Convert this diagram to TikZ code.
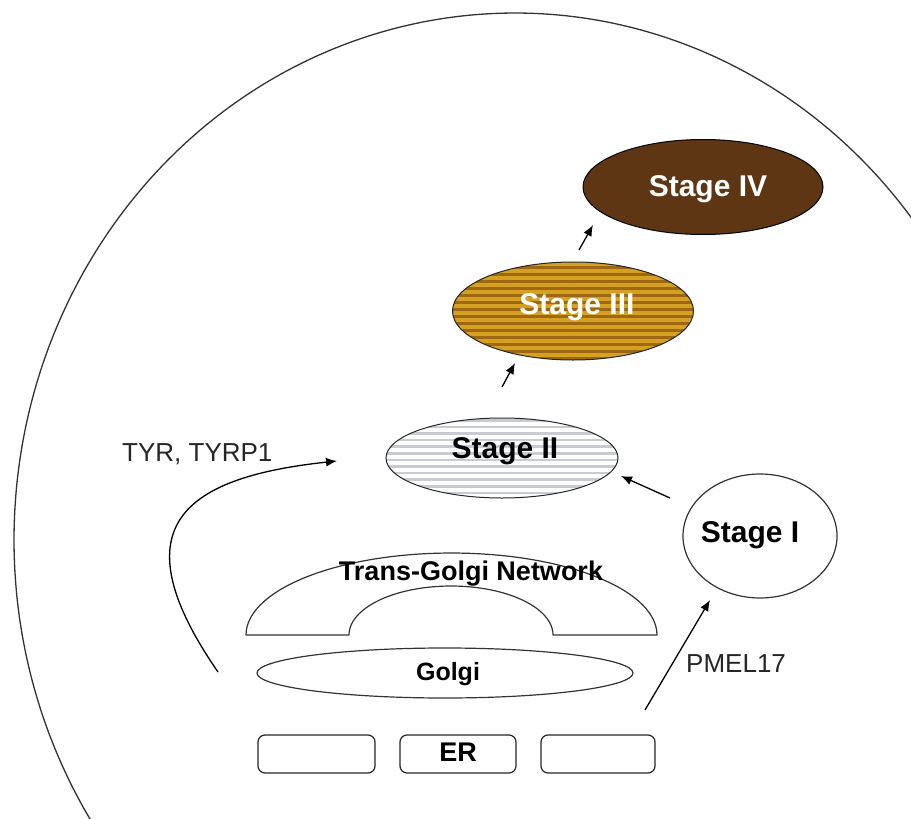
\documentclass[tikz,border=0pt]{standalone}
\usepackage{fontspec}
\setmainfont{Liberation Sans}
\usetikzlibrary{arrows.meta,shapes.geometric}
\definecolor{stfour}{RGB}{94,54,20}
\definecolor{goldA}{RGB}{214,160,32}
\definecolor{goldB}{RGB}{158,104,18}
\definecolor{greyS}{RGB}{200,203,210}
\tikzset{
  outline/.style={draw=black!80, line width=1.2pt},
  arr/.style={draw=black, line width=1.3pt, -{Latex[length=11pt,width=9pt]}},
  stagelbl/.style={font=\fontsize{30}{32}\selectfont\bfseries, anchor=base, inner sep=0pt},
  lbl/.style={font=\fontsize{26}{28}\selectfont, anchor=base west, inner sep=0pt, text=black!85},
  orglbl/.style={font=\fontsize{27}{29}\selectfont\bfseries, anchor=base, inner sep=0pt},
  stageell/.style={ellipse, inner sep=0pt},
  erbox/.style={draw=black!85, line width=1.2pt, rounded corners=7pt, minimum height=38pt, inner sep=0pt},
}
\begin{document}
\begin{tikzpicture}[x=1pt,y=-1pt]
\useasboundingbox (0,0) rectangle (911,819);
\fill[white] (0,0) rectangle (911,819);

% cell outline
\begin{scope}
\clip (0,0) rectangle (911,819);
\draw[outline, line width=1.3pt] plot[domain=0:360, samples=240, smooth]
  ({515+501*cos(\x)},{540-527*sin(\x)});
\end{scope}

% Stage IV
\node[stageell, draw=black, line width=1pt, fill=stfour,
      minimum width=240pt, minimum height=95pt] (s4) at (703,187) {};
\node[stagelbl, text=white] (s4t) at (708,196) {Stage IV};

% Stage III
\node[stageell, draw=black!85, line width=1pt, fill=goldB,
      minimum width=241pt, minimum height=98pt,
      path picture={\foreach \k in {0,...,16}{\fill[goldA]
        ([yshift=-\k*7pt]path picture bounding box.north west)
        rectangle ++(250pt,-4pt);}}] (s3) at (573,311) {};
\node[stagelbl, text=white] (s3t) at (577,314) {Stage III};

% Stage II
\node[stageell, draw=black!85, line width=1pt, fill=white,
      minimum width=232pt, minimum height=80pt,
      path picture={\foreach \k in {0,...,14}{\fill[greyS]
        ([yshift=-\k*6.6pt-1pt]path picture bounding box.north west)
        rectangle ++(240pt,-2.6pt);}}] (s2) at (502,458) {};
\node[stagelbl, text=black] (s2t) at (505,458) {Stage II};

% Stage I
\node[stageell, outline, minimum width=154pt, minimum height=124pt] (s1) at (760,536) {};
\node[stagelbl, text=black] (s1t) at (750,542) {Stage I};

% Trans-Golgi network
\draw[outline, line join=round]
  plot[domain=180:0, samples=60] ({451.5+205.5*cos(\x)},{635-82*sin(\x)})
  -- (553,635)
  -- plot[domain=0:180, samples=60] ({451+102*cos(\x)},{635-49*sin(\x)})
  -- cycle;
\node[orglbl] (tgn) at (471,580) {Trans-Golgi Network};

% Golgi
\node[stageell, outline, minimum width=376pt, minimum height=50pt] (golgi) at (445,673) {};
\node[orglbl, font=\fontsize{25}{27}\selectfont\bfseries] (golgit) at (448,680) {Golgi};

% ER
\node[erbox, minimum width=117pt] (er1) at (316.5,754) {};
\node[erbox, minimum width=116pt] (er2) at (458,754) {};
\node[erbox, minimum width=114pt] (er3) at (598,754) {};
\node[orglbl] (ert) at (458,761) {ER};

% labels
\node[lbl] (tyr) at (122,461) {TYR, TYRP1};
\node[lbl] (pmel) at (686,672) {PMEL17};

% arrows
\coordinate (tyrS) at (218,672);
\coordinate (tyrE) at (337,461);
\draw[arr] (tyrS) .. controls (120,530) and (178,478) .. (tyrE);

\coordinate (pmS) at (645,710);
\coordinate (pmE) at (710,600);
\draw[arr] (pmS) -- (pmE);

\coordinate (a1s) at (670,498);
\coordinate (a1e) at (621,476);
\draw[arr] (a1s) -- (a1e);

\coordinate (a2s) at (502,387);
\coordinate (a2e) at (515,363);
\draw[arr] (a2s) -- (a2e);

\coordinate (a3s) at (579,250);
\coordinate (a3e) at (593,225);
\draw[arr] (a3s) -- (a3e);
\end{tikzpicture}
\end{document}
